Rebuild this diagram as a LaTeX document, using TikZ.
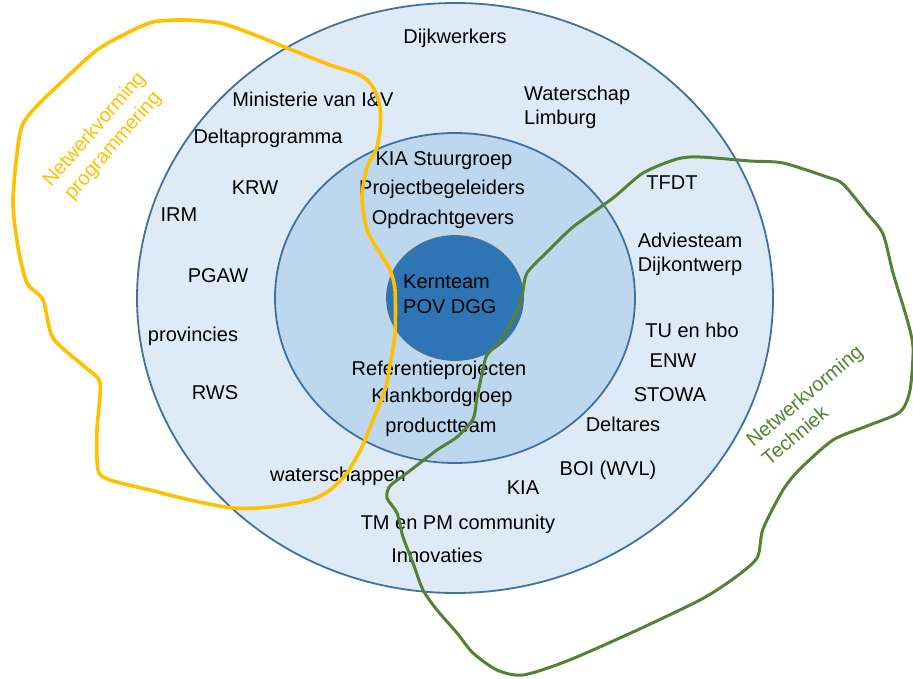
\documentclass[tikz,border=0pt]{standalone}
\usepackage{fontspec}
\setmainfont{Liberation Sans}
\definecolor{outerRing}{HTML}{DEEBF7}
\definecolor{middleRing}{HTML}{BDD7EE}
\definecolor{coreRing}{HTML}{2E75B6}
\definecolor{ringBorder}{HTML}{41719C}
\definecolor{progColor}{HTML}{FFC000}
\definecolor{techColor}{HTML}{548235}
\tikzstyle{diagram} = [x=1pt, y=-1pt]
\tikzstyle{ringStyle} = [draw=ringBorder, line width=1.8pt]
\tikzstyle{actorText} = [font=\fontsize{20}{24.5}\selectfont, inner sep=0pt]
\tikzstyle{netLine} = [line join=round, line cap=round]
\newcommand{\ring}[4]{\filldraw [ringStyle, fill=#1] (455, 298) ellipse (#2pt and #3pt);}
\newcommand{\actor}[4]{\node [actorText, anchor=base] (#1) at (#2, #3) {#4};}

\begin{document}
\begin{tikzpicture}[diagram]
\useasboundingbox (0,0) rectangle (913,679);
\ring{outerRing}{318}{295}{}
\ring{middleRing}{180}{165}{}
\ring{coreRing}{68}{62}{}
% actors, left side
\actor{ministerie}{313}{107}{Ministerie van I\&V}
\actor{deltaprogramma}{268}{144}{Deltaprogramma}
\actor{krw}{255}{195}{KRW}
\actor{irm}{179}{222}{IRM}
\actor{pgaw}{218}{282}{PGAW}
\actor{provincies}{193}{341}{provincies}
\actor{rws}{215}{399}{RWS}
\actor{waterschappen}{338}{481}{waterschappen}
% actors, top and bottom
\actor{dijkwerkers}{455}{44}{Dijkwerkers}
\actor{kia}{523}{494}{KIA}
\actor{tmPm}{458}{529}{TM en PM community}
\actor{innovaties}{437}{562}{Innovaties}
% actors, right side
\node [actorText, anchor=west, align=left] (waterschapLimburg) at (524,107.5) {Waterschap\\Limburg};
\actor{tfdt}{672}{190}{TFDT}
\node [actorText, align=center] (adviesteam) at (690,254.5) {Adviesteam\\Dijkontwerp};
\actor{tuHbo}{692}{337}{TU en hbo}
\actor{enw}{673}{367}{ENW}
\actor{stowa}{670}{401}{STOWA}
\actor{deltares}{623}{431}{Deltares}
\actor{boi}{608}{475}{BOI (WVL)}
% middle ring
\actor{kiaStuurgroep}{444}{166}{KIA Stuurgroep}
\actor{projectbegeleiders}{442}{195}{Projectbegeleiders}
\actor{opdrachtgevers}{443}{225}{Opdrachtgevers}
\actor{referentieprojecten}{439}{375}{Referentieprojecten}
\actor{klankbordgroep}{442}{402}{Klankbordgroep}
\actor{productteam}{441}{432}{productteam}
% core
\node [actorText, anchor=west, align=left] (kernteam) at (403,294) {Kernteam\\POV DGG};
% networks
\draw [netLine, draw=progColor, line width=3.6pt] plot [smooth cycle, tension=0.45] coordinates {
  (153,22) (183,20) (220,23) (255,35) (287,48) (330,65) (360,75) (373,87) (380,107)
  (380,130) (376,150) (367,167) (362,197) (367,230) (380,253) (390,270) (395,290)
  (395,333) (390,365) (385,390) (373,420) (362,447) (347,473) (330,490) (310,500)
  (270,507) (233,508) (190,500) (150,490) (110,480) (98,470) (97,430) (100,383)
  (85,367) (53,338) (43,300) (27,283) (18,247) (13,200) (20,133) (33,110) (67,77)
  (97,50) (127,33)};
\draw [netLine, draw=techColor, line width=3pt] plot [smooth cycle, tension=0.45] coordinates {
  (523,291) (527,273) (547,252) (573,227) (613,198) (643,173) (677,159) (700,157)
  (750,161) (783,163) (827,177) (843,184) (867,213) (883,234) (893,273) (907,319)
  (913,348) (910,390) (900,412) (867,426) (833,440) (800,469) (783,490) (763,529)
  (757,558) (733,579) (700,600) (633,632) (567,661) (523,675) (497,670) (473,653)
  (457,633) (437,610) (423,590) (413,563) (403,537) (397,513) (387,498) (390,486)
  (407,473) (437,450) (457,437) (473,419) (477,398) (483,369) (487,355) (500,341)
  (513,319) (521,300)};
\node [actorText, text=progColor, rotate=49, align=center] (progLabel) at (104,138) {Netwerkvorming\\programmering};
\node [actorText, text=techColor, rotate=40, align=left] (techLabel) at (812,405) {Netwerkvorming\\Techniek};
\end{tikzpicture}
\end{document}
